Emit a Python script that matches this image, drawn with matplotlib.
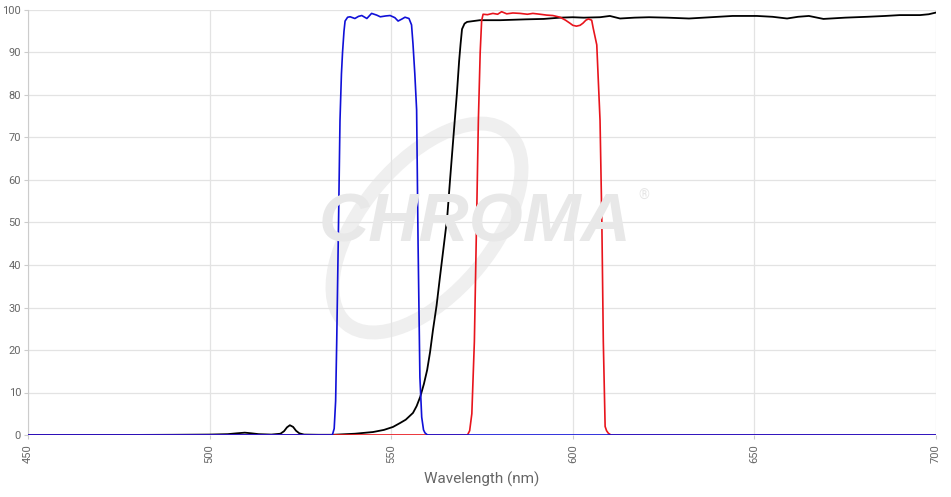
import matplotlib
matplotlib.use("Agg")
import matplotlib.pyplot as plt
from matplotlib.patches import Ellipse

# ---- data (wavelength nm, transmission %) ----
blue_nm = [450, 533.8, 534.3, 534.7, 535.0, 535.5, 535.9, 536.3, 536.6, 537.0, 537.3, 538.0, 538.7,
           540.0, 541.0, 541.9, 543.3, 544.6, 546.0, 547.0, 548.5, 549.7, 551.0, 551.9, 553.0,
           553.8, 554.9, 555.6, 556.0, 556.5, 557.0, 557.4, 557.9, 558.4, 558.9, 559.3, 560.0, 700]
blue_t = [0, 0, 1.5, 8, 22, 50, 74, 85, 90, 95, 97.4, 98.3, 98.4,
          98.0, 98.5, 98.7, 98.0, 99.2, 98.8, 98.4, 98.6, 98.7, 98.2, 97.4, 97.9,
          98.3, 98.0, 96.5, 92, 85, 76.5, 45, 13.6, 4.2, 1.2, 0.5, 0, 0]

red_nm = [450, 571.0, 571.6, 572.2, 572.9, 573.5, 574.0, 574.5, 574.9, 575.3, 576.5, 578.0, 579.3,
          580.4, 581.8, 583.5, 585.5, 587.5, 589.0, 591.0, 592.8, 594.5, 596.5, 598.0, 599.2,
          600.0, 601.0, 602.0, 602.8, 603.6, 604.3, 605.2, 605.6, 606.6, 607.5, 608.0, 608.4,
          608.9, 609.3, 609.8, 610.5, 700]
red_t = [0, 0, 1.0, 5, 22, 50, 74, 90, 97.5, 99.0, 98.9, 99.2, 99.0,
         99.6, 99.1, 99.3, 99.2, 99.0, 99.2, 99.0, 98.8, 98.7, 98.3, 97.6, 96.9,
         96.4, 96.2, 96.4, 96.9, 97.6, 97.9, 97.6, 95.8, 91.8, 74, 50, 22,
         2.0, 1.0, 0.4, 0, 0]

black_nm = [450, 480, 490, 500, 505, 507.5, 509.7, 511.5, 513.5, 517, 519.5, 520.5, 521.3, 522.1,
            523.0, 523.8, 524.7, 526, 530, 534, 540, 545, 548, 550.5, 552.4, 554, 556, 557,
            558, 559, 559.9, 560.7, 561.5, 562.5, 563.4, 564.4, 565.4, 566.2, 567, 568.1, 568.7,
            569.1, 569.5, 570.2, 570.9, 574.4, 580, 587, 592, 596.5, 600, 603, 607.5, 610.2,
            613, 617, 621, 626, 632, 638, 644, 650.7, 655, 659, 662, 665, 669, 675, 681, 686,
            690, 695.6, 698, 700]
black_t = [0, 0.02, 0.05, 0.1, 0.2, 0.4, 0.55, 0.4, 0.2, 0.1, 0.3, 0.9, 1.8, 2.3,
           1.9, 1.0, 0.4, 0.1, 0.05, 0.05, 0.3, 0.7, 1.2, 1.9, 2.8, 3.6, 5.2, 6.8,
           9, 12, 15.3, 19.5, 24.7, 30.5, 37, 44, 51, 60, 68.7, 80.5, 88,
           92, 95.5, 96.8, 97.2, 97.6, 97.6, 97.8, 97.9, 98.2, 98.3, 98.2, 98.3, 98.6,
           98.0, 98.2, 98.3, 98.2, 98.0, 98.3, 98.6, 98.6, 98.4, 98.0, 98.4, 98.6, 97.9, 98.2, 98.4, 98.6,
           98.8, 98.8, 99.0, 99.4]

x_ticks = [450, 500, 550, 600, 650, 700]
y_ticks = [0, 10, 20, 30, 40, 50, 60, 70, 80, 90, 100]
x_label = "Wavelength (nm)"

plt.rcParams['font.family'] = ['Roboto', 'DejaVu Sans']

W, H = 951, 497
fig = plt.figure(figsize=(W / 100, H / 100), dpi=100)
ax = fig.add_axes([28 / W, (H - 435) / H, (936 - 28) / W, (435 - 10) / H])

# watermark (drawn in inch coordinates so the ring is not distorted)
ell = Ellipse((4.27, (H - 228) / 100), 2.5, 1.3, angle=50,
              transform=fig.dpi_scale_trans, fill=False, lw=10, ec='#efefef', zorder=0)
fig.add_artist(ell)
fig.text(475 / W, (H - 224) / H, "CHROMA", transform=fig.transFigure, ha='center', va='center',
         fontsize=50, fontweight='bold', fontstyle='italic', color='#e8e8e8', zorder=0,
         family=['Liberation Sans', 'DejaVu Sans'])
fig.text(638 / W, (H - 196) / H, "®", transform=fig.transFigure, ha='left', va='center',
         fontsize=10, color='#e6e6e6', zorder=0)

ax.set_facecolor('none')
ax.plot(black_nm, black_t, color='black', lw=1.3, zorder=3)
ax.plot(red_nm, red_t, color='#e8141c', lw=1.2, zorder=4)
ax.plot(blue_nm, blue_t, color='#1010d8', lw=1.2, zorder=5)

ax.set_xlim(450, 700)
ax.set_ylim(0, 100)
ax.set_xticks(x_ticks)
ax.set_yticks(y_ticks)
ax.set_xticklabels([str(v) for v in x_ticks], rotation=90)
ax.grid(True, color='#e3e3e3', lw=0.9, zorder=0)
ax.set_axisbelow(True)
for s in ['top', 'right', 'bottom']:
    ax.spines[s].set_visible(False)
ax.spines['left'].set_color('#cccccc')
ax.tick_params(axis='both', colors='#cccccc', labelcolor='#666666', labelsize=8,
               length=3, width=0.8)
ax.tick_params(axis='y', pad=2)
ax.tick_params(axis='x', pad=4)
ax.set_xlabel(x_label, color='#666666', fontsize=11, labelpad=6)

fig.savefig("out.png", dpi=100)
